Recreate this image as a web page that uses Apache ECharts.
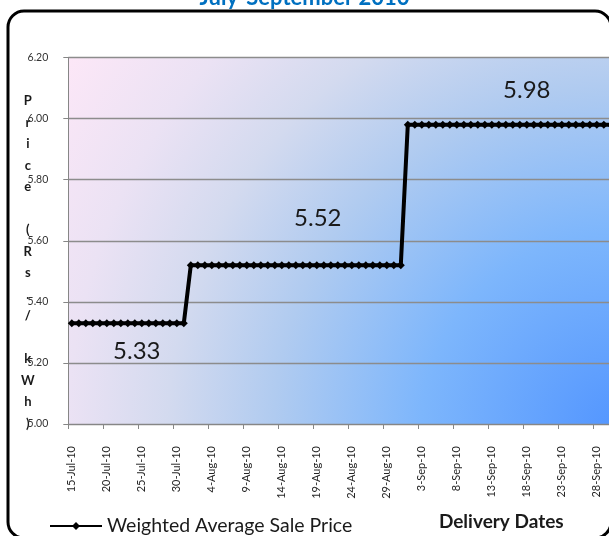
<!DOCTYPE html>
<html>
<head>
<meta charset="utf-8">
<script src="https://cdn.jsdelivr.net/npm/echarts@6/dist/echarts.min.js"></script>
<style>
html,body{margin:0;padding:0;background:#fff;}
#chart{width:609px;height:536px;}
</style>
</head>
<body>
<div id="chart"></div>
<script>
const titleText = 'July-September 2010';
const seriesName = 'Weighted Average Sale Price';
const xAxisName = 'Delivery Dates';
const yAxisName = 'Price (Rs./ kWh)';

const dates = [
  '15-Jul-10','16-Jul-10','17-Jul-10','18-Jul-10','19-Jul-10','20-Jul-10','21-Jul-10','22-Jul-10','23-Jul-10','24-Jul-10',
  '25-Jul-10','26-Jul-10','27-Jul-10','28-Jul-10','29-Jul-10','30-Jul-10','31-Jul-10',
  '1-Aug-10','2-Aug-10','3-Aug-10','4-Aug-10','5-Aug-10','6-Aug-10','7-Aug-10','8-Aug-10','9-Aug-10','10-Aug-10',
  '11-Aug-10','12-Aug-10','13-Aug-10','14-Aug-10','15-Aug-10','16-Aug-10','17-Aug-10','18-Aug-10','19-Aug-10','20-Aug-10',
  '21-Aug-10','22-Aug-10','23-Aug-10','24-Aug-10','25-Aug-10','26-Aug-10','27-Aug-10','28-Aug-10','29-Aug-10','30-Aug-10','31-Aug-10',
  '1-Sep-10','2-Sep-10','3-Sep-10','4-Sep-10','5-Sep-10','6-Sep-10','7-Sep-10','8-Sep-10','9-Sep-10','10-Sep-10',
  '11-Sep-10','12-Sep-10','13-Sep-10','14-Sep-10','15-Sep-10','16-Sep-10','17-Sep-10','18-Sep-10','19-Sep-10','20-Sep-10',
  '21-Sep-10','22-Sep-10','23-Sep-10','24-Sep-10','25-Sep-10','26-Sep-10','27-Sep-10','28-Sep-10','29-Sep-10','30-Sep-10'
];

const prices = [
  5.33,5.33,5.33,5.33,5.33,5.33,5.33,5.33,5.33,5.33,
  5.33,5.33,5.33,5.33,5.33,5.33,5.33,
  5.52,5.52,5.52,5.52,5.52,5.52,5.52,5.52,5.52,5.52,
  5.52,5.52,5.52,5.52,5.52,5.52,5.52,5.52,5.52,5.52,
  5.52,5.52,5.52,5.52,5.52,5.52,5.52,5.52,5.52,5.52,5.52,
  5.98,5.98,5.98,5.98,5.98,5.98,5.98,5.98,5.98,5.98,
  5.98,5.98,5.98,5.98,5.98,5.98,5.98,5.98,5.98,5.98,
  5.98,5.98,5.98,5.98,5.98,5.98,5.98,5.98,5.98,5.98
];

const yTicks = { min: 5.00, max: 6.20, interval: 0.20 };

// which points carry a value label (index into dates) and where the label sits
const labelledPoints = [
  { index: 9,  offset: [2, 28] },
  { index: 35, offset: [1, -47] },
  { index: 65, offset: [0, -34] }
];

const FONT = 'Lato, "Open Sans", sans-serif';

const seriesData = prices.map(function (v, i) {
  const lp = labelledPoints.find(function (p) { return p.index === i; });
  if (!lp) return v;
  return {
    value: v,
    label: {
      show: true,
      position: 'inside',
      offset: lp.offset,
      formatter: function (p) { return Number(p.value).toFixed(2); },
      fontSize: 24,
      fontFamily: FONT,
      color: '#1a1a1a'
    }
  };
});

const chart = echarts.init(document.getElementById('chart'), null, { renderer: 'canvas' });

const option = {
  animation: false,
  backgroundColor: '#ffffff',
  title: {
    text: titleText,
    left: 'center',
    top: -18,
    textStyle: { color: '#0070C0', fontSize: 22, fontWeight: 'bold', fontFamily: FONT }
  },
  graphic: [{
    type: 'rect',
    shape: { x: 8, y: 11, width: 603, height: 527, r: 16 },
    style: { fill: 'none', stroke: '#000000', lineWidth: 3 },
    silent: true,
    z: 100
  }],
  legend: {
    left: 44,
    top: 511,
    itemWidth: 52,
    itemHeight: 10,
    itemGap: 10,
    textStyle: { fontSize: 19.5, fontFamily: FONT, color: '#1a1a1a' },
    data: [seriesName]
  },
  grid: {
    left: 68.3,
    right: -5.3,
    top: 57.5,
    bottom: 112,
    show: true,
    borderWidth: 0,
    outerBoundsMode: 'none',
    containLabel: false,
    backgroundColor: new echarts.graphic.RadialGradient(620, 432, 665, [
      { offset: 0, color: '#5295FF' },
      { offset: 0.3, color: '#7DB6FC' },
      { offset: 0.52, color: '#B0CBF0' },
      { offset: 0.68, color: '#D3DAEF' },
      { offset: 0.83, color: '#EBE2F4' },
      { offset: 1, color: '#FCE7F7' }
    ], true)
  },
  xAxis: {
    type: 'category',
    data: dates,
    boundaryGap: true,
    name: xAxisName,
    nameLocation: 'middle',
    nameGap: 88,
    nameMoveOverlap: false,
    nameTextStyle: { fontSize: 19, fontWeight: 'bold', fontFamily: FONT, color: '#1a1a1a', padding: [0, 0, 0, 320] },
    axisLine: { show: true, lineStyle: { color: '#868686', width: 1 } },
    axisTick: { show: true, interval: 4, length: 5, lineStyle: { color: '#868686' } },
    axisLabel: {
      interval: 4,
      rotate: 90,
      margin: 22,
      fontSize: 11,
      fontFamily: FONT,
      color: '#262626'
    },
    splitLine: { show: false }
  },
  yAxis: {
    type: 'value',
    min: yTicks.min,
    max: yTicks.max,
    interval: yTicks.interval,
    name: '\n\n' + yAxisName.split('').join('\n'),
    nameLocation: 'middle',
    nameRotate: 0,
    nameGap: 40.5,
    nameMoveOverlap: false,
    nameTextStyle: {
      fontSize: 13,
      fontWeight: 'bold',
      fontFamily: FONT,
      color: '#1a1a1a',
      align: 'center',
      verticalAlign: 'middle',
      lineHeight: 21.5
    },
    axisLine: { show: true, lineStyle: { color: '#868686', width: 1 } },
    axisTick: { show: true, length: 5, lineStyle: { color: '#868686' } },
    axisLabel: {
      margin: 20,
      fontSize: 10.5,
      fontFamily: FONT,
      color: '#333333',
      formatter: function (v) { return v.toFixed(2); }
    },
    splitLine: { show: true, lineStyle: { color: '#8c8c8c', width: 1.3 } }
  },
  series: [{
    name: seriesName,
    type: 'line',
    data: seriesData,
    showAllSymbol: true,
    symbol: 'diamond',
    symbolSize: 8,
    itemStyle: { color: '#000000' },
    lineStyle: { color: '#000000', width: 4 },
    z: 5
  }]
};

chart.setOption(option);
</script>
</body>
</html>
